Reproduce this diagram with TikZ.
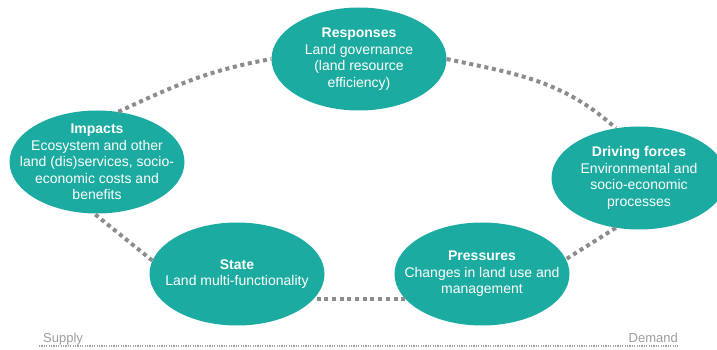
\documentclass[tikz,border=0pt]{standalone}
\usepackage{fontspec}
\setmainfont{Liberation Sans}
\usetikzlibrary{shapes.geometric}
\definecolor{dpsirteal}{RGB}{27,171,160}
\definecolor{dpsirgrey}{RGB}{140,140,140}
\begin{document}
\begin{tikzpicture}[
    x=1pt, y=-1pt,
    stage/.style={ellipse, fill=dpsirteal, text=white, inner xsep=-16pt, inner ysep=-6pt,
                  minimum width=175pt, minimum height=103pt,
                  font=\fontsize{14}{16.5}\selectfont, align=center},
    link/.style={draw=dpsirgrey, line width=4pt, dash pattern=on 4pt off 3.7pt},
    axislabel/.style={text=dpsirgrey!85, font=\fontsize{13}{15}\selectfont, inner sep=0pt},
    axisline/.style={draw=dpsirgrey!80, line width=1.3pt, dash pattern=on 1.2pt off 1.2pt},
  ]
    \useasboundingbox (0,0) rectangle (717,350);

    % the five DPSIR stages
    \node[stage] (resp)  at (359,59)  {\textbf{Responses}\\Land governance\\(land resource\\efficiency)};
    \node[stage] (drive) at (639,178) {\textbf{Driving forces}\\Environmental and\\socio-economic\\processes};
    \node[stage] (press) at (482,274) {\textbf{Pressures}\\Changes in land use and\\management};
    \node[stage] (state) at (237,274) {\textbf{State}\\Land multi-functionality};
    \node[stage] (imp)   at (97,162)  {\textbf{Impacts}\\Ecosystem and other\\land (dis)services, socio-\\economic costs and\\benefits};

    % dotted cycle
    \draw[link] (imp.67) to[out=25, in=190] (resp.180);
    \draw[link] (resp.0) to[out=-12, in=138] (drive.115);
    \draw[link] (drive.245) -- (press.10);
    \draw[link] (press.198) -- (state.-18);
    \draw[link] (state.171) -- (imp.267);

    % supply / demand axis
    \node[axislabel, anchor=base west] (supply) at (43,342) {Supply};
    \node[axislabel, anchor=base east] (demand) at (678,342) {Demand};
    \coordinate (axisL) at (39,346);
    \coordinate (axisR) at (678,346);
    \draw[axisline] (axisL) -- (axisR);
\end{tikzpicture}
\end{document}
